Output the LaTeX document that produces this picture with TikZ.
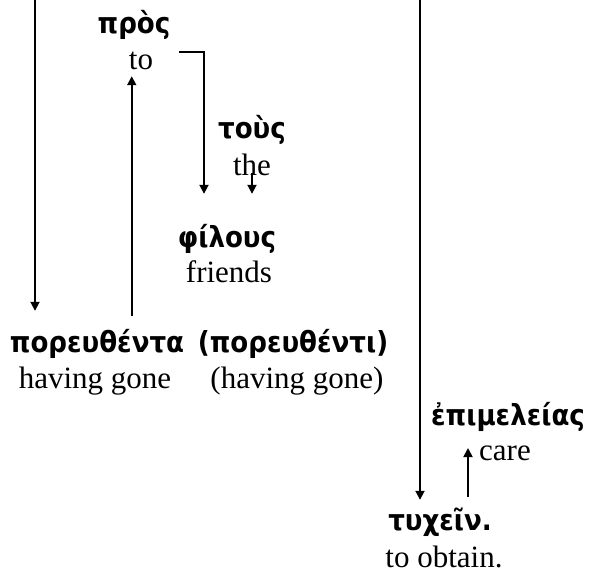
\documentclass[tikz,border=0pt]{standalone}
\usepackage{fontspec}
\setmainfont{Liberation Serif}
\newfontfamily\gkfont{DejaVu Sans}[FakeStretch=0.9]
\usetikzlibrary{arrows.meta}
\tikzset{
  gk/.style={font=\gkfont\bfseries\fontsize{29}{33}\selectfont, inner sep=0pt, anchor=base, text height=19pt, text depth=6pt},
  en/.style={font=\fontsize{31}{36}\selectfont, inner sep=0pt, anchor=base, text height=20pt, text depth=7pt},
  arr/.style={-{Triangle[length=9pt,width=9pt]}, line width=1.8pt}
}
\begin{document}
\begin{tikzpicture}[x=1pt,y=-1pt]
\useasboundingbox (0,0) rectangle (597,574);
\node[gk] (pros) at (134,33) {πρὸς};
\node[en] (to) at (141,69) {to};
\node[gk] (tous) at (252,138) {τοὺς};
\node[en] (the) at (252,175) {the};
\node[gk] (philous) at (227,247) {φίλους};
\node[en] (friends) at (229,282) {friends};
\node[gk] (poreuth) at (97,352) {πορευθέντα};
\node[gk] (poreuthi) at (293,352) {(πορευθέντι)};
\node[en] (gone) at (95,388) {having gone};
\node[en] (gonei) at (297,388) {(having gone)};
\node[gk] (epim) at (508,425) {ἐπιμελείας};
\node[en] (care) at (505,460) {care};
\node[gk] (tyx) at (440,530) {τυχεῖν.};
\node[en] (obtain) at (444,567) {to obtain.};
\coordinate (topL) at (35,0);
\coordinate (topR) at (420,0);
\coordinate (upto) at ([xshift=3pt]to.south west);
\coordinate (brk) at ([xshift=26pt,yshift=-3pt]to.north east);
\coordinate (upcare) at ([xshift=-11pt,yshift=12pt]care.base west);
\draw[arr, shorten >=22pt] (topL) -- (topL |- poreuth.north);
\draw[arr, shorten <=17pt] (poreuth.north -| upto) -- (upto);
\draw[arr, shorten >=34pt] (brk) -| ([xshift=-23pt]philous.north);
\draw[arr, shorten <=-2pt, shorten >=34pt] (the.base) -- (the.base |- philous.north);
\draw[arr, shorten >=11pt] (topR) -- (topR |- tyx.north);
\draw[arr, shorten <=14pt] (tyx.north -| upcare) -- (upcare);
\end{tikzpicture}
\end{document}
